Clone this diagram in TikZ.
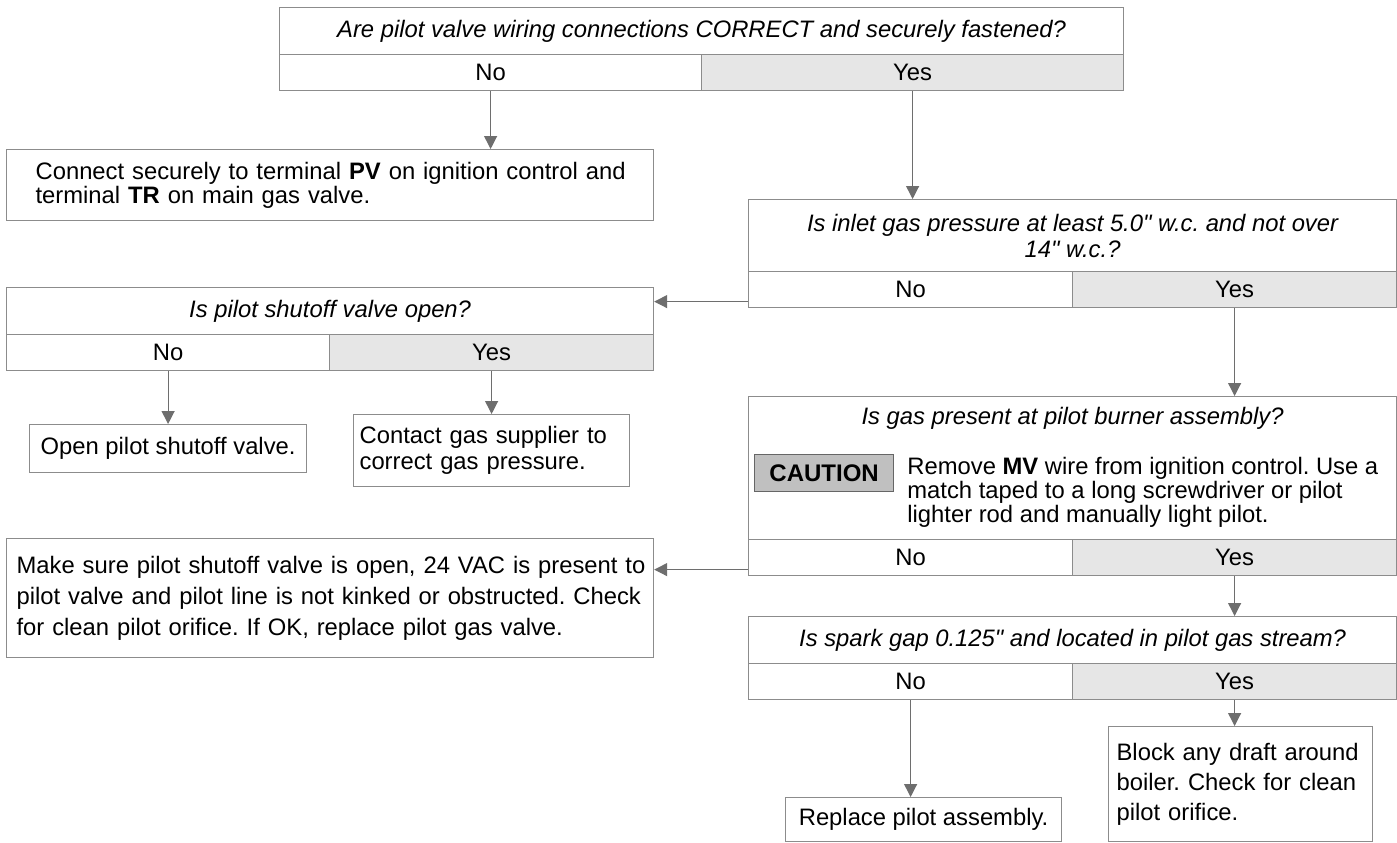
\documentclass[tikz,border=0pt]{standalone}
\usepackage{fontspec}
\setmainfont{Liberation Sans}[Ligatures=TeXOff]
\usetikzlibrary{arrows.meta,positioning}
\definecolor{linegray}{HTML}{8C8C8C}
\definecolor{yesgray}{HTML}{E6E6E6}
\definecolor{arrowgray}{HTML}{6E6E6E}
\definecolor{cautiongray}{HTML}{C0C0C0}
\frenchspacing

\begin{document}
\begin{tikzpicture}[x=0.5pt,y=-0.5pt,
	every node/.style={font=\fontsize{11.9}{12}\selectfont},
	box/.style={draw=linegray,line width=0.6pt,anchor=north west,inner sep=0pt,align=center},
	question/.style={box,font=\fontsize{11.9}{13}\selectfont\itshape},
	nobox/.style={box,minimum height=18pt},
	yesbox/.style={box,minimum height=18pt,fill=yesgray},
	action/.style={box,align=left},
	flow/.style={draw=arrowgray,line width=0.6pt,-{Triangle[length=6.5pt,width=6.5pt]}}]
	\useasboundingbox (0,0) rectangle (1397,842);

	% wiring check
	\node[question,minimum width=422pt,minimum height=23.5pt] (wiring) at (279,7) {Are pilot valve wiring connections CORRECT and securely fastened?};
	\node[nobox,minimum width=211pt] (wiringno) at (279,54) {No};
	\node[yesbox,minimum width=211pt] (wiringyes) at (701,54) {Yes};
	\node[action,text width=294.5pt,inner xsep=14.5pt,minimum height=35.5pt] (connect) at (6,149) {\mbox{Connect securely to terminal \textbf{PV} on ignition control and}\\terminal \textbf{TR} on main gas valve.};

	% inlet pressure
	\node[question,minimum width=324pt,minimum height=36pt] (inlet) at (748,199) {Is inlet gas pressure at least 5.0" w.c. and not over\\14" w.c.?};
	\node[nobox,minimum width=162pt] (inletno) at (748,271) {No};
	\node[yesbox,minimum width=162pt] (inletyes) at (1072,271) {Yes};

	% shutoff valve
	\node[question,minimum width=323.5pt,minimum height=23.5pt] (shutoff) at (6,287) {Is pilot shutoff valve open?};
	\node[nobox,minimum width=161.5pt] (shutoffno) at (6,334) {No};
	\node[yesbox,minimum width=162pt] (shutoffyes) at (329,334) {Yes};
	\node[box,minimum width=138.5pt,minimum height=24pt] (openvalve) at (29,424) {Open pilot shutoff valve.};
	\node[action,text width=132pt,inner xsep=3pt,minimum height=36pt,font=\fontsize{11.9}{13}\selectfont] (supplier) at (353,414) {Contact gas supplier to\\correct gas pressure.};

	% gas at pilot burner
	\node[box,minimum width=324pt,minimum height=71.5pt] (gas) at (748,396) {};
	\node[font=\fontsize{11.9}{12}\selectfont\itshape] (gasq) at ([yshift=-11pt]gas.north) {Is gas present at pilot burner assembly?};
	\node[draw=black!60,fill=cautiongray,line width=0.6pt,anchor=north west,inner sep=0pt,minimum width=69.5pt,minimum height=18.5pt,font=\fontsize{12}{12}\selectfont\bfseries] (caution) at (754,454) {CAUTION};
	\node[anchor=north west,align=left,inner sep=0pt] (cautiontext) at (907,457) {Remove \textbf{MV} wire from ignition control. Use a\\match taped to a long screwdriver or pilot\\lighter rod and manually light pilot.};
	\node[nobox,minimum width=162pt] (gasno) at (748,539) {No};
	\node[yesbox,minimum width=162pt] (gasyes) at (1072,539) {Yes};
	\node[action,text width=313.5pt,inner xsep=5pt,minimum height=59.5pt,font=\fontsize{11.9}{15.5}\selectfont] (makesure) at (6,538) {\mbox{Make sure pilot shutoff valve is open, 24 VAC is present to}\\\mbox{pilot valve and pilot line is not kinked or obstructed. Check}\\\mbox{for clean pilot orifice. If OK, replace pilot gas valve.}};

	% spark gap
	\node[question,minimum width=324pt,minimum height=23.5pt] (spark) at (748,616) {Is spark gap 0.125" and located in pilot gas stream?};
	\node[nobox,minimum width=162pt] (sparkno) at (748,663) {No};
	\node[yesbox,minimum width=162pt] (sparkyes) at (1072,663) {Yes};
	\node[box,minimum width=138pt,minimum height=22pt] (replace) at (785,797) {Replace pilot assembly.};
	\node[action,text width=124pt,inner xsep=4pt,minimum height=57.5pt,font=\fontsize{11.9}{15}\selectfont] (draft) at (1108,726) {Block any draft around\\boiler. Check for clean\\pilot orifice.};

	% connectors
	\draw[flow] (wiringno.south) -- (wiringno.south |- connect.north);
	\draw[flow] (wiringyes.south) -- (wiringyes.south |- inlet.north);
	\draw[flow] ([yshift=-6pt]inletno.west) -- ([yshift=-6pt]inletno.west -| shutoff.east);
	\draw[flow] (shutoffno.south) -- (shutoffno.south |- openvalve.north);
	\draw[flow] (shutoffyes.south) -- (shutoffyes.south |- supplier.north);
	\draw[flow] (inletyes.south) -- (inletyes.south |- gas.north);
	\draw[flow] ([yshift=-6pt]gasno.west) -- ([yshift=-6pt]gasno.west -| makesure.east);
	\draw[flow] (gasyes.south) -- (gasyes.south |- spark.north);
	\draw[flow] (sparkno.south) -- (sparkno.south |- replace.north);
	\draw[flow] (sparkyes.south) -- (sparkyes.south |- draft.north);
\end{tikzpicture}
\end{document}
